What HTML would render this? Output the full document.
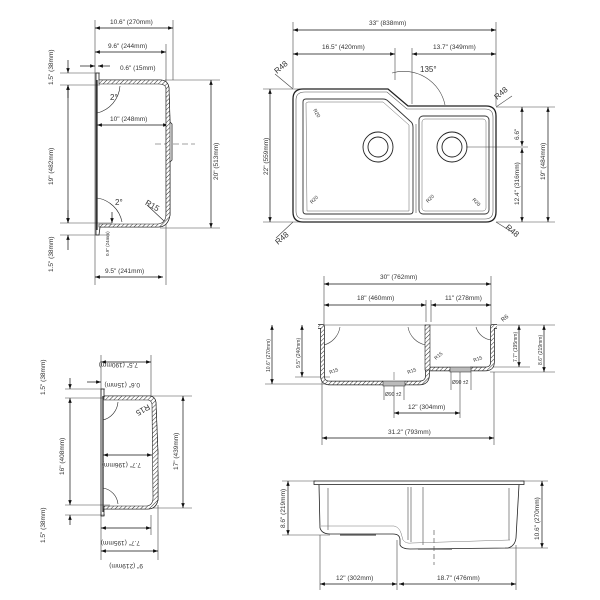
<!DOCTYPE html>
<html><head><meta charset="utf-8"><style>
html,body{margin:0;padding:0;background:#fff;}
svg{display:block;}
text{font-family:"Liberation Sans",sans-serif;font-size:6.5px;fill:#333;}
</style></head><body>
<svg width="600" height="600" viewBox="0 0 600 600" xmlns="http://www.w3.org/2000/svg">
<defs>
<marker id="a" viewBox="0 0 10 10" refX="10" refY="5" markerWidth="7" markerHeight="7" orient="auto-start-reverse"><path d="M0,1.5 L10,5 L0,8.5z" fill="#111"/></marker>
<pattern id="h" width="3" height="3" patternUnits="userSpaceOnUse" patternTransform="rotate(45)"><rect width="3" height="3" fill="#fff"/><line x1="0" y1="0" x2="0" y2="3" stroke="#333" stroke-width="1"/></pattern>
</defs>
<g stroke="#444" stroke-width="0.6" fill="none">
<line x1="95" y1="20" x2="95" y2="285"/><line x1="173" y1="20" x2="173" y2="80"/><line x1="166" y1="44" x2="166" y2="285"/>
<line x1="60" y1="73" x2="100" y2="73"/><line x1="60" y1="85" x2="100" y2="85"/>
<line x1="165" y1="80" x2="220" y2="80"/><line x1="60" y1="223" x2="112" y2="223"/><line x1="60" y1="235" x2="110" y2="235"/><line x1="160" y1="228" x2="220" y2="228"/>
<line x1="155" y1="144" x2="195" y2="144" stroke-dasharray="6,3"/>
</g>
<g stroke="#111" stroke-width="0.7" fill="none" marker-start="url(#a)" marker-end="url(#a)">
<line x1="95" y1="28" x2="173" y2="28"/><line x1="95" y1="52" x2="166" y2="52"/>
<line x1="97" y1="125" x2="168" y2="125"/><line x1="95" y1="277" x2="163" y2="277"/>
<line x1="211" y1="80" x2="211" y2="228"/><line x1="68" y1="85" x2="68" y2="223"/>
</g>
<g stroke="#111" stroke-width="0.7" marker-end="url(#a)">
<line x1="68" y1="60" x2="68" y2="73"/><line x1="68" y1="98" x2="68" y2="85"/>
<line x1="68" y1="210" x2="68" y2="223"/><line x1="68" y1="250" x2="68" y2="235"/>
<line x1="80" y1="66" x2="95" y2="66"/><line x1="110" y1="66" x2="98" y2="66"/>
<line x1="112" y1="212" x2="112" y2="223"/>
</g>
<path d="M96,73 L99,73 L99,80 L160,80 Q168,80 169,88 L170,122 L172,124 L172,160 L170,162 L170,215 Q168,227 158,227 L100,227 L99,235 L96,235 Z" fill="none" stroke="#222" stroke-width="0.8"/>
<path d="M99,80 L160,80 Q168,80 169,88 L170,122 L170,162 L170,215 Q168,227 158,227 L99,227 L99,224 L158,224 Q166,223 166,214 L166,88 Q165,84 159,84 L99,84 Z" fill="url(#h)" stroke="#222" stroke-width="0.6"/>
<line x1="97" y1="80" x2="97" y2="230" stroke="#222" stroke-width="1.2"/>
<path d="M97,113 A30,30 0 0 0 120,86" fill="none" stroke="#222" stroke-width="0.6"/>
<path d="M97,198 A30,30 0 0 1 122,222" fill="none" stroke="#222" stroke-width="0.6"/>
<line x1="147" y1="205" x2="164" y2="221" stroke="#222" stroke-width="0.6"/>
<text x="110" y="24">10.6" (270mm)</text><text x="108" y="48">9.6" (244mm)</text><text x="120" y="70">0.6" (15mm)</text>
<text x="110" y="121">10" (248mm)</text><text x="105" y="273">9.5" (241mm)</text>
<text x="145" y="207" style="font-size:8px" transform="rotate(30 150 205)">R15</text>
<text x="110" y="100" style="font-size:8px">2°</text><text x="115" y="205" style="font-size:8px">2°</text>
<text transform="translate(53,85) rotate(-90)">1.5" (38mm)</text>
<text transform="translate(53,185) rotate(-90)">19" (482mm)</text>
<text transform="translate(53,272) rotate(-90)">1.5" (38mm)</text>
<text transform="translate(218,180) rotate(-90)">20" (513mm)</text>
<text transform="translate(109,256) rotate(-90)" style="font-size:4.5px">0.9" (24mm)</text>

<!-- ===== TOP RIGHT ===== -->
<g stroke="#444" stroke-width="0.6" fill="none">
<line x1="293" y1="22" x2="293" y2="88"/><line x1="496" y1="22" x2="496" y2="106"/>
<line x1="395" y1="48" x2="395" y2="80"/><line x1="412" y1="48" x2="412" y2="104"/>
<line x1="263" y1="89" x2="300" y2="89"/><line x1="263" y1="222" x2="300" y2="222"/>
<line x1="496" y1="107" x2="555" y2="107"/><line x1="496" y1="222" x2="555" y2="222"/><line x1="466" y1="147" x2="528" y2="147"/>
<line x1="275" y1="74" x2="293" y2="89"/><line x1="276" y1="238" x2="293" y2="222"/><line x1="496" y1="107" x2="512" y2="96"/><line x1="496" y1="222" x2="512" y2="232"/>
<path d="M392,73 A42,42 0 0 1 445,105"/>
</g>
<g stroke="#111" stroke-width="0.7" fill="none" marker-start="url(#a)" marker-end="url(#a)">
<line x1="293" y1="30" x2="496" y2="30"/><line x1="293" y1="54" x2="395" y2="54"/><line x1="412" y1="54" x2="496" y2="54"/>
<line x1="270" y1="89" x2="270" y2="222"/><line x1="548" y1="107" x2="548" y2="222"/>
<line x1="522" y1="107" x2="522" y2="146"/><line x1="522" y1="148" x2="522" y2="222"/>
</g>
<path d="M303,89 L388,89 L408,106 L486,106 Q496,106 496,116 L496,212 Q496,222 486,222 L303,222 Q293,222 293,212 L293,99 Q293,89 303,89 Z" fill="none" stroke="#222" stroke-width="1.3"/>
<path d="M305,92 L387,92 L407,109 L485,109 Q493,109 493,117 L493,211 Q493,219 485,219 L304,219 Q296,219 296,211 L296,100 Q296,92 305,92 Z" fill="none" stroke="#555" stroke-width="0.6"/>
<path d="M306,99 L383,99 Q386,99 388,101 L410,121 Q413,123 413,127 L413,211 Q413,214 410,214 L306,214 Q303,214 303,211 L303,102 Q303,99 306,99 Z" fill="none" stroke="#333" stroke-width="0.9"/>
<path d="M308,102 L383,102 L409,125 L409,211 L307,211 L306,103 Z" fill="none" stroke="#666" stroke-width="0.5"/>
<rect x="419" y="116" width="70" height="98" rx="4" fill="none" stroke="#333" stroke-width="0.9"/>
<rect x="422" y="119" width="64" height="92" rx="3" fill="none" stroke="#666" stroke-width="0.5"/>
<line x1="416" y1="124" x2="416" y2="213" stroke="#555" stroke-width="0.6"/>
<g fill="none" stroke="#222" stroke-width="0.9"><circle cx="378" cy="147" r="15"/><circle cx="378" cy="147" r="10"/><circle cx="452" cy="147" r="15"/><circle cx="452" cy="147" r="10"/></g>
<text x="369" y="25">33" (838mm)</text><text x="322" y="49">16.5" (420mm)</text><text x="433" y="49">13.7" (349mm)</text>
<text x="420" y="72" style="font-size:8px">135°</text>
<text transform="translate(277,74) rotate(-40)" style="font-size:8px">R48</text>
<text transform="translate(278,245) rotate(-40)" style="font-size:8px">R48</text>
<text transform="translate(497,100) rotate(-40)" style="font-size:8px">R48</text>
<text transform="translate(505,228) rotate(40)" style="font-size:8px">R48</text>
<text transform="translate(268,175) rotate(-90)">22" (559mm)</text>
<text transform="translate(545,180) rotate(-90)">19" (484mm)</text>
<text transform="translate(519,140) rotate(-90)">6.6"</text>
<text transform="translate(519,205) rotate(-90)">12.4" (316mm)</text>
<text transform="translate(313,110) rotate(60)" style="font-size:5px">R20</text>
<text transform="translate(312,204) rotate(-45)" style="font-size:5px">R20</text>
<text transform="translate(428,203) rotate(-45)" style="font-size:5px">R20</text>
<text transform="translate(472,200) rotate(45)" style="font-size:5px">R20</text>

<!-- ===== MIDDLE RIGHT ===== -->
<g stroke="#444" stroke-width="0.6" fill="none">
<line x1="324" y1="276" x2="324" y2="325"/><line x1="491" y1="276" x2="491" y2="325"/>
<line x1="426" y1="300" x2="426" y2="322"/><line x1="431" y1="300" x2="431" y2="322"/>
<line x1="318" y1="325" x2="555" y2="325"/><line x1="265" y1="384" x2="330" y2="384"/><line x1="295" y1="377" x2="330" y2="377"/>
<line x1="470" y1="367" x2="530" y2="367"/><line x1="490" y1="372" x2="555" y2="372"/>
<line x1="322" y1="380" x2="322" y2="445"/><line x1="494" y1="372" x2="494" y2="445"/>
<line x1="394" y1="385" x2="394" y2="418"/><line x1="460" y1="372" x2="460" y2="418"/>
<line x1="384" y1="385" x2="384" y2="400"/><line x1="404" y1="385" x2="404" y2="400"/>
<line x1="451" y1="372" x2="451" y2="390"/><line x1="471" y1="372" x2="471" y2="390"/>
<path d="M324,345 A22,22 0 0 0 340,327"/><path d="M426,345 A22,22 0 0 1 408,327"/><path d="M491,340 A18,18 0 0 1 476,327"/>
</g>
<g stroke="#111" stroke-width="0.7" fill="none" marker-start="url(#a)" marker-end="url(#a)">
<line x1="324" y1="284" x2="491" y2="284"/><line x1="324" y1="305" x2="426" y2="305"/><line x1="431" y1="305" x2="491" y2="305"/>
<line x1="272" y1="325" x2="272" y2="384"/><line x1="302" y1="325" x2="302" y2="377"/>
<line x1="519" y1="325" x2="519" y2="367"/><line x1="544" y1="325" x2="544" y2="372"/>
<line x1="394" y1="413" x2="460" y2="413"/><line x1="322" y1="438" x2="494" y2="438"/>
</g>
<g fill="none" stroke-linejoin="round">
<path id="w1" d="M318,326.5 L322.5,326.5 L322.5,376 Q322.5,383 330,383 L383,383 M405,383 L419,383 Q427.5,383 427.5,375 L427.5,368 M427.5,369 L450,369 M471,369 L485,369 Q492.5,369 492.5,362 L492.5,326.5 L497,326.5" stroke="#222" stroke-width="4.5"/>
<path d="M318,326.5 L322.5,326.5 L322.5,376 Q322.5,383 330,383 L383,383 M405,383 L419,383 Q427.5,383 427.5,375 L427.5,368 M427.5,369 L450,369 M471,369 L485,369 Q492.5,369 492.5,362 L492.5,326.5 L497,326.5" stroke="url(#h)" stroke-width="3"/>
</g>
<rect x="425" y="325" width="5" height="45" fill="url(#h)" stroke="#222" stroke-width="0.6"/>
<rect x="383" y="381" width="22" height="5" fill="#bbb" stroke="#222" stroke-width="0.5"/>
<rect x="450" y="367" width="21" height="5" fill="#bbb" stroke="#222" stroke-width="0.5"/>
<line x1="394" y1="372" x2="394" y2="380" stroke="#444" stroke-width="0.5"/>
<text x="380" y="279">30" (762mm)</text><text x="357" y="300">18" (460mm)</text><text x="445" y="300">11" (278mm)</text>
<text x="408" y="409">12" (304mm)</text><text x="388" y="434">31.2" (793mm)</text>
<text x="385" y="396" style="font-size:5px">Ø90 ±2</text><text x="452" y="384" style="font-size:5px">Ø90 ±2</text>
<text transform="translate(330,374) rotate(-20)" style="font-size:5px">R15</text>
<text transform="translate(408,374) rotate(-20)" style="font-size:5px">R15</text>
<text transform="translate(436,360) rotate(-40)" style="font-size:5px">R15</text>
<text transform="translate(474,362) rotate(-20)" style="font-size:5px">R15</text>
<text transform="translate(503,322) rotate(-40)" style="font-size:6px">R6</text>
<text transform="translate(270,372) rotate(-90)" style="font-size:5px">10.6" (270mm)</text>
<text transform="translate(300,368) rotate(-90)" style="font-size:5px">9.5" (240mm)</text>
<text transform="translate(517,362) rotate(-90)" style="font-size:5px">7.7" (195mm)</text>
<text transform="translate(542,365) rotate(-90)" style="font-size:5px">8.6" (219mm)</text>

<!-- ===== BOTTOM LEFT ===== -->
<g stroke="#444" stroke-width="0.6" fill="none">
<line x1="101" y1="355" x2="101" y2="560"/><line x1="151" y1="355" x2="151" y2="400"/><line x1="158" y1="505" x2="158" y2="560"/><line x1="151" y1="515" x2="151" y2="535"/>
<line x1="65" y1="389" x2="105" y2="389"/><line x1="65" y1="398" x2="105" y2="398"/><line x1="150" y1="396" x2="192" y2="396"/>
<line x1="65" y1="505" x2="110" y2="505"/><line x1="65" y1="515" x2="105" y2="515"/><line x1="150" y1="508" x2="192" y2="508"/>
</g>
<g stroke="#111" stroke-width="0.7" fill="none" marker-start="url(#a)" marker-end="url(#a)">
<line x1="101" y1="362" x2="151" y2="362"/><line x1="103" y1="455" x2="152" y2="455"/>
<line x1="101" y1="528" x2="151" y2="528"/><line x1="101" y1="551" x2="158" y2="551"/>
<line x1="183" y1="396" x2="183" y2="508"/><line x1="70" y1="398" x2="70" y2="505"/>
</g>
<g stroke="#111" stroke-width="0.7" marker-end="url(#a)">
<line x1="70" y1="378" x2="70" y2="389"/><line x1="70" y1="525" x2="70" y2="515"/>
<line x1="87" y1="382" x2="101" y2="382"/>
</g>
<path d="M101,389 L104,389 L104,396 L150,396 Q156,397 156,404 L158,454 L156,456 L156,470 L158,472 L158,500 Q156,509 148,509 L104,509 L104,516 L101,516 Z" fill="none" stroke="#222" stroke-width="0.8"/>
<path d="M104,396 L150,396 Q156,397 156,404 L158,454 L158,500 Q156,509 148,509 L104,509 L104,506 L147,506 Q153,505 153,498 L152,404 Q151,400 148,400 L104,400 Z" fill="url(#h)" stroke="#222" stroke-width="0.6"/>
<line x1="103" y1="396" x2="103" y2="512" stroke="#222" stroke-width="1.2"/>
<path d="M103,420 A20,20 0 0 0 118,402" fill="none" stroke="#222" stroke-width="0.6"/>
<path d="M103,488 A18,18 0 0 1 118,504" fill="none" stroke="#222" stroke-width="0.6"/>
<g transform="rotate(180 126 360)"><text x="114" y="357">7.5" (190mm)</text></g>
<g transform="rotate(180 126 380)"><text x="112" y="377">0.6" (15mm)</text></g>
<g transform="rotate(180 127 460)"><text x="113" y="457">7.7" (196mm)</text></g>
<g transform="rotate(180 126 538)"><text x="112" y="535">7.7" (195mm)</text></g>
<g transform="rotate(180 130 561)"><text x="117" y="558">9" (219mm)</text></g>
<text transform="translate(148,404) rotate(150)" style="font-size:8px">R15</text>
<text transform="translate(45,395) rotate(-90)">1.5" (38mm)</text>
<text transform="translate(64,475) rotate(-90)">16" (408mm)</text>
<text transform="translate(45,543) rotate(-90)">1.5" (38mm)</text>
<text transform="translate(178,470) rotate(-90)">17" (439mm)</text>

<!-- ===== BOTTOM RIGHT ===== -->
<g stroke="#444" stroke-width="0.6" fill="none">
<line x1="282" y1="481" x2="316" y2="481"/><line x1="282" y1="535" x2="330" y2="535"/>
<line x1="520" y1="481" x2="548" y2="481"/><line x1="505" y1="548" x2="548" y2="548"/>
<line x1="320" y1="535" x2="320" y2="590"/><line x1="397" y1="540" x2="397" y2="590"/><line x1="516" y1="545" x2="516" y2="590"/>
<line x1="328" y1="488" x2="328" y2="530"/><line x1="408" y1="487" x2="408" y2="540"/><line x1="411" y1="487" x2="411" y2="542"/><line x1="423" y1="487" x2="423" y2="545"/>
<line x1="509" y1="488" x2="509" y2="540"/>
<line x1="434" y1="530" x2="434" y2="565" stroke-dasharray="5,3"/>
</g>
<g stroke="#111" stroke-width="0.7" fill="none" marker-start="url(#a)" marker-end="url(#a)">
<line x1="288" y1="481" x2="288" y2="535"/><line x1="542" y1="481" x2="542" y2="548"/>
<line x1="320" y1="584" x2="397" y2="584"/><line x1="399" y1="584" x2="516" y2="584"/>
</g>
<rect x="314" y="481" width="210" height="3.5" fill="none" stroke="#222" stroke-width="0.8"/>
<path d="M319,485 L320,528 Q322,534 330,534 L393,534 Q400,534 400,540 L400,545 Q402,549 410,549 L508,548 Q515,546 516,538 L519,485" fill="none" stroke="#222" stroke-width="0.8"/>
<path d="M321,526 L394,526 Q399,527 401,533 L403,540 Q406,544 412,543 L510,540" fill="none" stroke="#777" stroke-width="0.5"/>
<line x1="340" y1="535" x2="376" y2="535" stroke="#555" stroke-width="1.3"/>
<line x1="418" y1="549" x2="452" y2="549" stroke="#555" stroke-width="1.3"/>
<text x="336" y="580">12" (302mm)</text><text x="437" y="580">18.7" (476mm)</text>
<text transform="translate(285,528) rotate(-90)">8.6" (219mm)</text>
<text transform="translate(539,540) rotate(-90)">10.6" (270mm)</text>
</svg>
</body></html>
